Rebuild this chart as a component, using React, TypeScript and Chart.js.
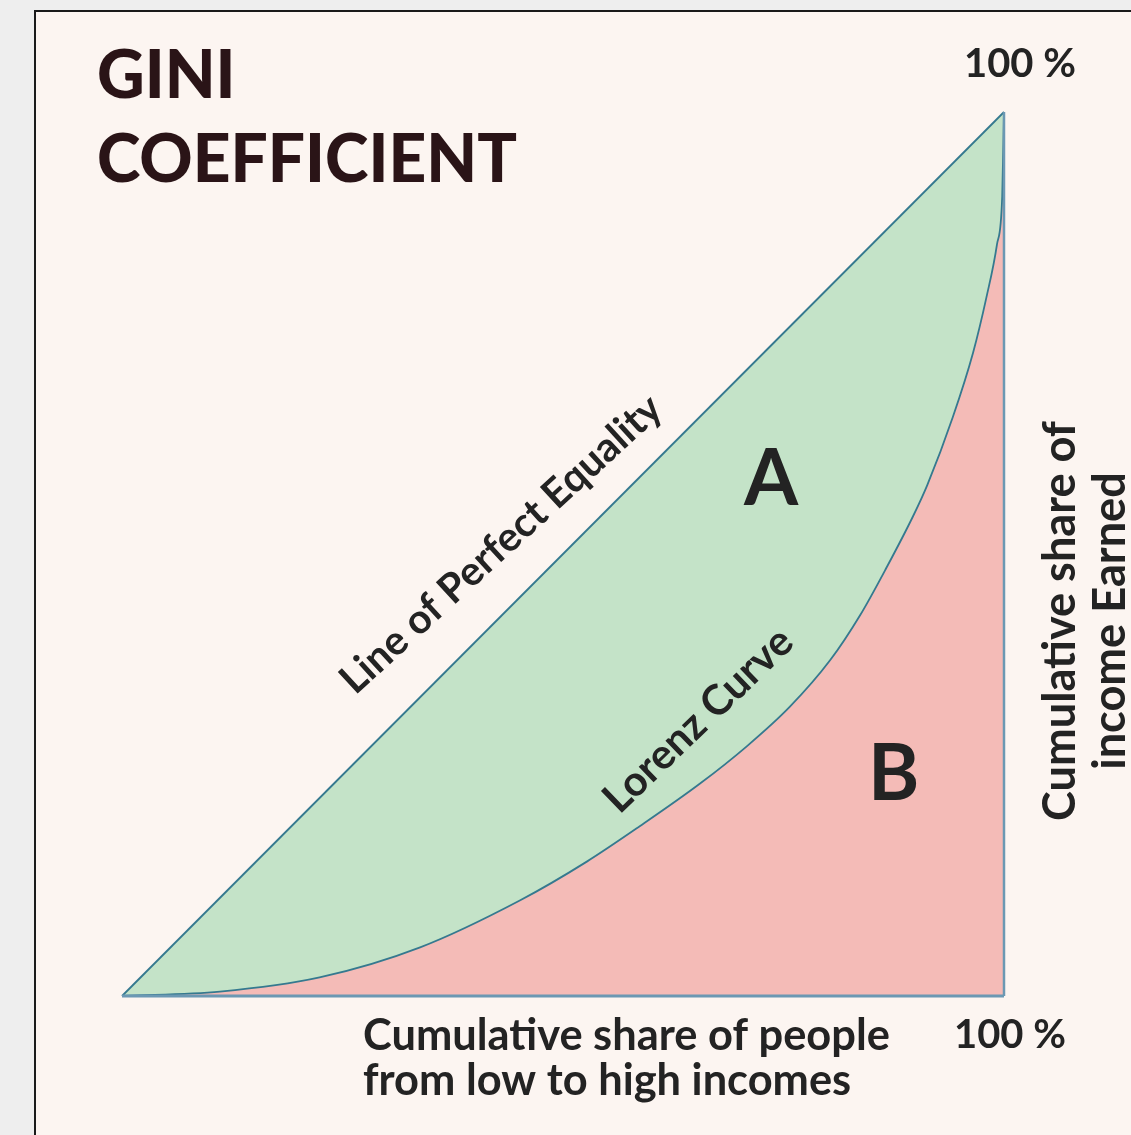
import React, { useEffect, useRef } from "react";
import { Chart, registerables } from "chart.js";

Chart.register(...registerables);

// Cumulative share of people (x) and cumulative share of income (y), 0..1
const lorenzX = [0, 0.111, 0.224, 0.338, 0.451, 0.527, 0.587, 0.655, 0.709, 0.757, 0.803, 0.837, 0.867, 0.897, 0.913, 0.942, 0.965, 0.98, 0.992, 0.998, 1.0];
const lorenzY = [0, 0.005, 0.021, 0.055, 0.108, 0.152, 0.192, 0.24, 0.283, 0.327, 0.38, 0.431, 0.485, 0.543, 0.578, 0.655, 0.728, 0.79, 0.85, 0.905, 1.0];
// Line of perfect equality: income share equals population share
const equalityX = [0, 1];
const equalityY = [0, 1];

const titleLines = ["GINI", "COEFFICIENT"];
const xAxisLines = ["Cumulative share of people", "from low to high incomes"];
const yAxisLines = ["Cumulative share of", "income Earned"];
const maxLabel = "100 %";
const equalityLabel = "Line of Perfect Equality";
const lorenzLabel = "Lorenz Curve";
const areaLabels = ["A", "B"];

const W = 1131;
const H = 1135;
const LINE = "#35798f";
const EDGE = "#6b98b3";
const GREEN = "#c4e3c8";
const PINK = "#f4bbb7";
const CREAM = "#fcf5f1";
const TEXT = "#232323";
const TITLE = "#2a1417";
const FAMILY = "Lato, 'DejaVu Sans', sans-serif";

function fit(ctx: CanvasRenderingContext2D, text: string, weight: string, width: number) {
  ctx.font = `${weight} 100px ${FAMILY}`;
  const w = ctx.measureText(text).width;
  return (100 * width) / w;
}

const giniPlugin = {
  id: "giniDecor",
  beforeDraw(chart: any) {
    const ctx = chart.ctx as CanvasRenderingContext2D;
    ctx.save();
    ctx.fillStyle = "#eeeeee";
    ctx.fillRect(0, 0, W, H);
    ctx.fillStyle = CREAM;
    ctx.fillRect(35, 11, W - 35, H - 11);
    ctx.fillStyle = "#1a1a1a";
    ctx.fillRect(34, 10, 2, H - 10);
    ctx.fillRect(34, 10, W - 34, 2);
    ctx.restore();
  },
  afterDraw(chart: any) {
    const ctx = chart.ctx as CanvasRenderingContext2D;
    const xs = chart.scales.x;
    const ys = chart.scales.y;
    const px = (v: number) => xs.getPixelForValue(v);
    const py = (v: number) => ys.getPixelForValue(v);
    ctx.save();

    // Title
    const tSize = fit(ctx, titleLines[1], "900", 420);
    ctx.font = `900 ${tSize}px ${FAMILY}`;
    ctx.fillStyle = TITLE;
    ctx.textAlign = "left";
    ctx.textBaseline = "alphabetic";
    ctx.fillText(titleLines[0], 97, 98);
    ctx.fillText(titleLines[1], 97, 182);

    // 100 % labels
    ctx.fillStyle = TEXT;
    const pSize = fit(ctx, maxLabel, "700", 112);
    ctx.font = `700 ${pSize}px ${FAMILY}`;
    ctx.textAlign = "center";
    ctx.fillText(maxLabel, px(1) + 16, py(1) - 35);
    ctx.fillText(maxLabel, px(1) + 6, py(0) + 52);

    // x axis title
    const xSize = fit(ctx, xAxisLines[0], "700", 527);
    ctx.font = `700 ${xSize}px ${FAMILY}`;
    ctx.textAlign = "left";
    ctx.fillText(xAxisLines[0], 363, py(0) + 54);
    ctx.fillText(xAxisLines[1], 363, py(0) + 99);

    // y axis title (rotated)
    const ySize = fit(ctx, yAxisLines[0], "700", 400);
    ctx.save();
    ctx.translate(px(1), py(0.5));
    ctx.rotate(-Math.PI / 2);
    ctx.font = `700 ${ySize}px ${FAMILY}`;
    ctx.textAlign = "center";
    ctx.fillText(yAxisLines[0], -67, 71);
    ctx.fillText(yAxisLines[1], -67, 121);
    ctx.restore();

    // Line of Perfect Equality label
    const eSize = fit(ctx, equalityLabel, "700", 420);
    ctx.save();
    ctx.translate(px(0.44), py(0.5));
    ctx.rotate((-42.5 * Math.PI) / 180);
    ctx.font = `700 ${eSize}px ${FAMILY}`;
    ctx.textAlign = "center";
    ctx.fillText(equalityLabel, 0, 0);
    ctx.restore();

    // Lorenz Curve label
    const lSize = fit(ctx, lorenzLabel, "700", 245);
    ctx.save();
    ctx.translate(px(0.664), py(0.301));
    ctx.rotate((-44 * Math.PI) / 180);
    ctx.font = `700 ${lSize}px ${FAMILY}`;
    ctx.textAlign = "center";
    ctx.fillText(lorenzLabel, 0, 0);
    ctx.restore();

    // A and B
    ctx.font = `700 78px ${FAMILY}`;
    ctx.textAlign = "center";
    ctx.fillText(areaLabels[0], px(0.736), py(0.555));
    ctx.fillText(areaLabels[1], px(0.875), py(0.222));

    ctx.restore();
  },
};

export default function App() {
  const ref = useRef<HTMLCanvasElement | null>(null);
  useEffect(() => {
    if (!ref.current) return;
    const lorenz = lorenzX.map((x, i) => ({ x, y: lorenzY[i] }));
    const equality = equalityX.map((x, i) => ({ x, y: equalityY[i] }));
    const chart = new Chart(ref.current, {
      type: "line",
      data: {
        datasets: [
          {
            label: "Line of Perfect Equality",
            data: equality,
            borderColor: LINE,
            borderWidth: 1.8,
            pointRadius: 0,
            fill: { target: 1, above: GREEN, below: GREEN },
            backgroundColor: GREEN,
            order: 3,
            clip: false,
          },
          {
            label: "Lorenz Curve",
            data: lorenz,
            borderColor: LINE,
            borderWidth: 1.8,
            pointRadius: 0,
            cubicInterpolationMode: "monotone",
            fill: { target: "origin", above: PINK, below: PINK },
            backgroundColor: PINK,
            order: 2,
            clip: false,
          },
          {
            label: "right edge",
            data: [{ x: 1, y: 0 }, { x: 1, y: 1 }],
            borderColor: EDGE,
            borderWidth: 2.5,
            pointRadius: 0,
            fill: false,
            order: 1,
            clip: false,
          },
          {
            label: "bottom edge",
            data: [{ x: 0, y: 0 }, { x: 1, y: 0 }],
            borderColor: EDGE,
            borderWidth: 3,
            pointRadius: 0,
            fill: false,
            order: 0,
            clip: false,
          },
        ],
      },
      options: {
        responsive: false,
        animation: false,
        layout: { padding: { left: 122, top: 112, right: W - 1004, bottom: H - 996 } },
        plugins: { legend: { display: false }, tooltip: { enabled: false }, title: { display: false } },
        scales: {
          x: { type: "linear", min: 0, max: 1, display: false },
          y: { type: "linear", min: 0, max: 1, display: false },
        },
        elements: { line: { tension: 0 } },
      },
      plugins: [giniPlugin],
    } as any);
    return () => chart.destroy();
  }, []);
  return (
    <div style={{ position: "fixed", left: 0, top: 0, width: W, height: H }}>
      <canvas ref={ref} width={W} height={H} style={{ display: "block", width: W, height: H }} />
    </div>
  );
}
